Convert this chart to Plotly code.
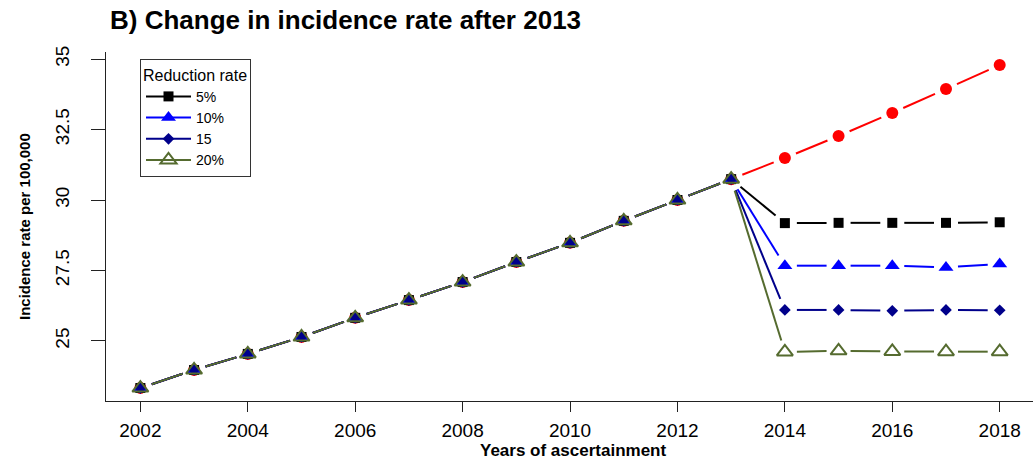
import plotly.graph_objects as go
import numpy as np

years = [2002, 2003, 2004, 2005, 2006, 2007, 2008, 2009, 2010, 2011, 2012, 2013,
         2014, 2015, 2016, 2017, 2018]
base = [23.33, 23.97, 24.54, 25.14, 25.82, 26.45, 27.09, 27.80, 28.48, 29.26, 30.00, 30.74]
no_reduction = [31.49, 32.27, 33.09, 33.94, 34.79]
red5 = [29.18, 29.19, 29.19, 29.19, 29.21]
red10 = [27.67, 27.67, 27.67, 27.61, 27.73]
red15 = [26.10, 26.10, 26.07, 26.10, 26.09]
red20 = [24.61, 24.65, 24.63, 24.62, 24.62]

legend_names = ["5%", "10%", "15", "20%"]
y_ticks = [25, 27.5, 30, 32.5, 35]
y_ticktext = ["25", "27.5", "30", "32.5", "35"]
x_ticks = [2002, 2004, 2006, 2008, 2010, 2012, 2014, 2016, 2018]

FONT = "Liberation Sans, Arial, Helvetica, sans-serif"
W, H = 1033, 460
ML, MR, MT, MB = 106, 0, 52, 59
PW, PH = W - ML - MR, H - MT - MB
XR = [2001.36, 2018.62]
YR = [22.87, 35.25]
sx = PW / (XR[1] - XR[0])
sy = PH / (YR[1] - YR[0])
GAP = 12.0

def gapped(xs, ys):
    gx, gy = [], []
    for i in range(len(xs) - 1):
        x0, y0, x1, y1 = xs[i], ys[i], xs[i + 1], ys[i + 1]
        dx, dy = (x1 - x0) * sx, (y1 - y0) * sy
        L = (dx * dx + dy * dy) ** 0.5
        if L <= 2 * GAP:
            continue
        f = GAP / L
        gx += [x0 + (x1 - x0) * f, x1 - (x1 - x0) * f, None]
        gy += [y0 + (y1 - y0) * f, y1 - (y1 - y0) * f, None]
    return gx, gy

series = [
    (None, base + no_reduction, "#FF0000", dict(symbol="circle", size=12, color="#FF0000")),
    (legend_names[0], base + red5, "#000000", dict(symbol="square", size=10, color="#000000")),
    (legend_names[1], base + red10, "#0000FF", dict(symbol="triangle-up", size=13, color="#0000FF")),
    (legend_names[2], base + red15, "#00008B", dict(symbol="diamond", size=9, color="#00008B")),
    (legend_names[3], base + red20, "#556B2F", dict(symbol="triangle-up-open", size=14, color="#556B2F",
                                                    line=dict(width=2, color="#556B2F"))),
]

fig = go.Figure()
for name, ys, col, mk in series:
    gx, gy = gapped(years, ys)
    fig.add_trace(go.Scatter(x=gx, y=gy, mode="lines", line=dict(color=col, width=2),
                             showlegend=False, hoverinfo="skip"))
    fig.add_trace(go.Scatter(x=years, y=ys, mode="markers", marker=mk, showlegend=False))

for name, ys, col, mk in series[1:]:
    fig.add_trace(go.Scatter(x=[None], y=[None], mode="lines+markers", name=name,
                             line=dict(color=col, width=2), marker=mk, showlegend=True))

fig.update_layout(
    width=W, height=H,
    margin=dict(l=ML, r=MR, t=MT, b=MB, pad=0),
    paper_bgcolor="white", plot_bgcolor="white",
    font=dict(family=FONT, color="black"),
    showlegend=True,
    legend=dict(
        x=(140 - ML) / PW, y=(H - MB - 59) / PH, xanchor="left", yanchor="top",
        bordercolor="#333333", borderwidth=1, bgcolor="white",
        font=dict(size=14, family=FONT, color="black"),
        title=dict(text="Reduction rate", font=dict(size=16, family=FONT, color="black")),
        tracegroupgap=0, itemwidth=45,
    ),
    xaxis=dict(
        range=XR, tickvals=x_ticks, ticktext=[str(v) for v in x_ticks],
        showgrid=False, zeroline=False, showline=True, linecolor="#222222", linewidth=1.3,
        ticks="outside", ticklen=10, tickwidth=1.3, tickcolor="#222222",
        tickfont=dict(size=19, family=FONT, color="black"), ticklabelstandoff=2,
    ),
    yaxis=dict(
        range=YR, tickvals=y_ticks, ticktext=y_ticktext, tickangle=-90,
        showgrid=False, zeroline=False, showline=True, linecolor="#222222", linewidth=1.3,
        ticks="outside", ticklen=14, tickwidth=1.3, tickcolor="#222222",
        tickfont=dict(size=19, family=FONT, color="black"), ticklabelstandoff=14,
    ),
    annotations=[
        dict(text="<b>B) Change in incidence rate after 2013</b>", xref="paper", yref="paper",
             x=(108 - ML) / PW, y=(H - MB - 20) / PH, xanchor="left", yanchor="middle",
             showarrow=False, font=dict(size=26, family=FONT, color="black")),
        dict(text="<b>Years of ascertainment</b>", xref="paper", yref="paper",
             x=(573 - ML) / PW, y=(H - MB - 450) / PH, xanchor="center", yanchor="middle",
             showarrow=False, font=dict(size=17, family=FONT, color="black")),
        dict(text="<b>Incidence rate per 100,000</b>", xref="paper", yref="paper",
             x=(24 - ML) / PW, y=(H - MB - 227) / PH, xanchor="center", yanchor="middle",
             textangle=-90, showarrow=False, font=dict(size=15, family=FONT, color="black")),
    ],
)

fig.write_html("out.html")
